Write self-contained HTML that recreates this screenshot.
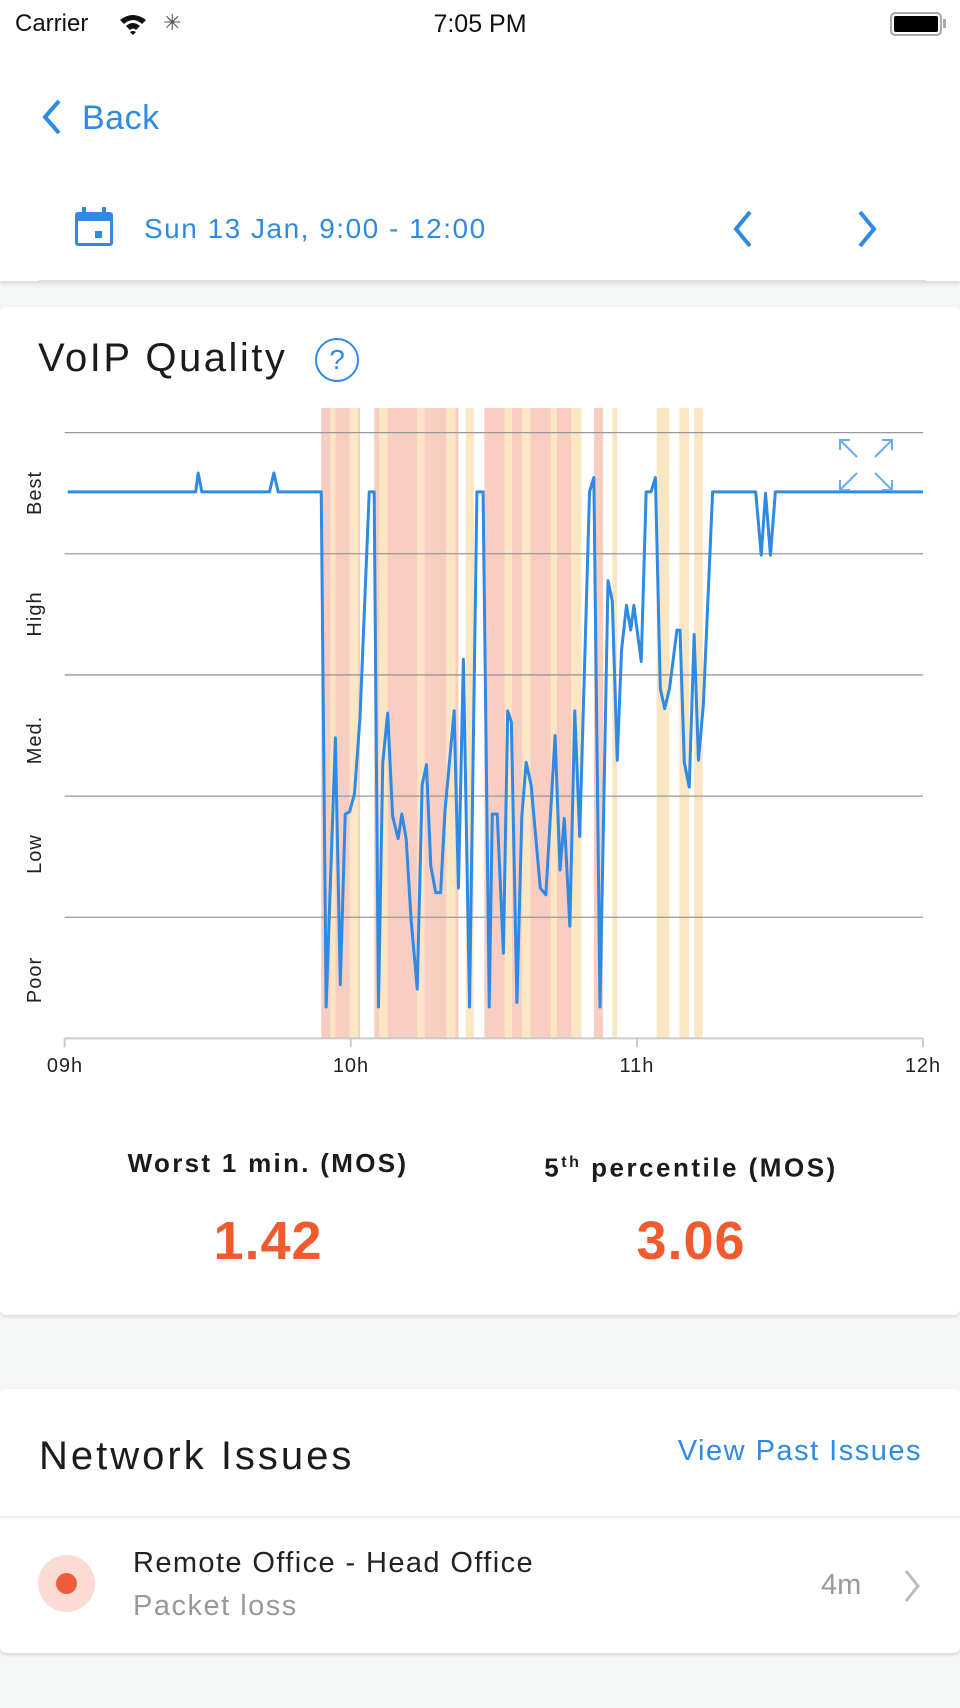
<!DOCTYPE html>
<html><head><meta charset="utf-8"><style>
*{margin:0;padding:0;box-sizing:border-box}
body{width:960px;height:1708px;background:#f5f6f6;font-family:"Liberation Sans",sans-serif;position:relative;overflow:hidden}
.a{position:absolute;white-space:nowrap}
.card{position:absolute;left:0;width:960px;background:#fff;box-shadow:0 2px 3px rgba(0,0,0,0.12)}
</style></head><body>
<div class="a" style="left:0;top:0;width:960px;height:281px;background:#fff;box-shadow:0 3px 4px rgba(0,0,0,0.1)"></div>
<div class="a" style="left:15px;top:10px;font-size:24px;line-height:28px;color:#111">Carrier</div>
<svg class="a" style="left:118px;top:12px" width="30" height="24" viewBox="0 0 30 24"><path d="M2 8 Q15 -2 28 8 L24 12 Q15 4 6 12Z M8 14 Q15 8 22 14 L18 18 Q15 15 12 18Z M15 23 L12 20 Q15 18 18 20Z" fill="#111"/></svg>
<div class="a" style="left:163px;top:10px;font-size:22px;color:#555">✳</div>
<div class="a" style="left:0;width:960px;text-align:center;top:10px;font-size:25px;line-height:28px;color:#111">7:05 PM</div>
<div class="a" style="left:890px;top:12px;width:52px;height:24px;border:2px solid #aaa;border-radius:5px;padding:2px"><div style="width:100%;height:100%;background:#000;border-radius:2px"></div></div>
<div class="a" style="left:943px;top:19px;width:3px;height:9px;background:#aaa"></div>
<svg class="a" style="left:40px;top:98px" width="24" height="38"><polyline points="19,3 5,19 19,35" fill="none" stroke="#2f8ae5" stroke-width="4"/></svg>
<div class="a" style="left:82px;top:99px;font-size:34px;line-height:38px;color:#2f8ae5;letter-spacing:0.5px">Back</div>
<svg class="a" style="left:74px;top:207px" width="40" height="40"><rect x="1" y="5" width="38" height="34" rx="3" fill="#2f8ae5"/><rect x="4" y="14" width="32" height="22" fill="#fff"/><rect x="8" y="0" width="4" height="8" fill="#2f8ae5"/><rect x="28" y="0" width="4" height="8" fill="#2f8ae5"/><rect x="21" y="24" width="7" height="7" fill="#2f8ae5"/></svg>
<div class="a" style="left:144px;top:213px;font-size:28px;line-height:32px;color:#2f8ae5;letter-spacing:1.5px">Sun 13 Jan, 9:00 - 12:00</div>
<svg class="a" style="left:728px;top:209px" width="30" height="40"><polyline points="22,3 8,20 22,37" fill="none" stroke="#2f8ae5" stroke-width="4"/></svg>
<svg class="a" style="left:852px;top:209px" width="30" height="40"><polyline points="8,3 22,20 8,37" fill="none" stroke="#2f8ae5" stroke-width="4"/></svg>
<div class="a" style="left:39px;top:280px;width:887px;height:2px;background:#ddd"></div>

<div class="card" style="top:307px;height:1008px;border-radius:6px"></div>
<div class="a" style="left:38px;top:336px;font-size:40px;line-height:44px;color:#1b1b1b;letter-spacing:2.5px">VoIP Quality</div>
<div class="a" style="left:315px;top:338px;width:44px;height:44px;border:2.5px solid #2f8ae5;border-radius:50%;color:#2f8ae5;font-size:28px;line-height:39px;text-align:center">?</div>

<svg class="a" style="left:0;top:390px" width="960" height="700" viewBox="0 0 1560 1560" preserveAspectRatio="none">
<g fill="#f8cec3">
<rect x="522" y="40" width="63" height="1405"/><rect x="608" y="40" width="137" height="1405"/><rect x="787" y="40" width="158" height="1405"/><rect x="965" y="40" width="15" height="1405"/>
</g>
<g fill="#fbe6c4">
<rect x="537" y="40" width="8" height="1405"/><rect x="568" y="40" width="14" height="1405"/><rect x="616" y="40" width="14" height="1405"/><rect x="678" y="40" width="12" height="1405"/><rect x="725" y="40" width="15" height="1405"/><rect x="757" y="40" width="13" height="1405"/><rect x="820" y="40" width="12" height="1405"/><rect x="848" y="40" width="14" height="1405"/><rect x="895" y="40" width="10" height="1405"/><rect x="928" y="40" width="17" height="1405"/><rect x="995" y="40" width="8" height="1405"/><rect x="1067" y="40" width="21" height="1405"/><rect x="1104" y="40" width="16" height="1405"/><rect x="1128" y="40" width="14" height="1405"/>
</g>
<g stroke="#999" stroke-width="1.3">
<line x1="105" x2="1500" y1="95" y2="95" vector-effect="non-scaling-stroke"/><line x1="105" x2="1500" y1="365" y2="365" vector-effect="non-scaling-stroke"/><line x1="105" x2="1500" y1="635" y2="635" vector-effect="non-scaling-stroke"/><line x1="105" x2="1500" y1="905" y2="905" vector-effect="non-scaling-stroke"/><line x1="105" x2="1500" y1="1175" y2="1175" vector-effect="non-scaling-stroke"/>
</g>
<g stroke="#ccc" stroke-width="2"><line x1="105" x2="1500" y1="1445" y2="1445" vector-effect="non-scaling-stroke"/>
<line x1="105" x2="105" y1="1445" y2="1465" vector-effect="non-scaling-stroke"/><line x1="570" x2="570" y1="1445" y2="1465" vector-effect="non-scaling-stroke"/><line x1="1035" x2="1035" y1="1445" y2="1465" vector-effect="non-scaling-stroke"/><line x1="1500" x2="1500" y1="1445" y2="1465" vector-effect="non-scaling-stroke"/></g>
<polyline fill="none" stroke="#2f8ae5" stroke-width="3" stroke-linejoin="round" vector-effect="non-scaling-stroke" points="110,227 318,227 322,185 328,227 438,227 445,185 452,227 522,227 530,1375 545,775 553,1325 561,945 568,940 576,900 585,730 600,227 608,227 615,1375 622,830 630,720 638,950 647,1000 653,945 660,1000 668,1180 678,1335 686,880 693,835 700,1060 708,1120 716,1120 723,940 738,715 745,1110 753,600 763,1375 775,227 785,227 795,1375 800,945 808,945 818,1255 825,715 831,740 840,1365 848,950 855,830 863,880 878,1110 887,1125 902,770 910,1070 917,955 926,1195 934,715 942,995 958,227 965,195 975,1375 988,425 995,470 1003,825 1010,580 1018,480 1025,535 1030,480 1042,605 1050,227 1058,227 1065,195 1073,665 1080,710 1088,665 1100,535 1105,535 1112,830 1120,885 1128,545 1135,825 1143,700 1158,227 1228,227 1237,368 1244,230 1252,368 1260,227 1500,227"/>
</svg>
<svg class="a" style="left:0;top:390px" width="960" height="720">
<g stroke="#6aaaf0" stroke-width="2" fill="none">
<path d="M840 60 L840 50 L850 50 M840 50 L857 67"/><path d="M892 60 L892 50 L882 50 M892 50 L875 67"/><path d="M840 90 L840 100 L850 100 M840 100 L857 83"/><path d="M892 90 L892 100 L882 100 M892 100 L875 83"/>
</g>
<g font-size="20" fill="#222" text-anchor="middle" font-family="Liberation Sans,sans-serif" letter-spacing="1">
<text transform="translate(41,103) rotate(-90)">Best</text>
<text transform="translate(41,224) rotate(-90)">High</text>
<text transform="translate(41,350) rotate(-90)">Med.</text>
<text transform="translate(41,464) rotate(-90)">Low</text>
<text transform="translate(41,590) rotate(-90)">Poor</text>
<text x="65" y="682">09h</text><text x="351" y="682">10h</text><text x="637" y="682">11h</text><text x="923" y="682">12h</text>
</g></svg>

<div class="a" style="left:68px;width:400px;text-align:center;top:1148px;font-size:26px;line-height:30px;font-weight:bold;color:#1b1b1b;letter-spacing:2.3px">Worst 1 min. (MOS)</div>
<div class="a" style="left:491px;width:400px;text-align:center;top:1148px;font-size:26px;line-height:30px;font-weight:bold;color:#1b1b1b;letter-spacing:2.5px">5<sup style="font-size:16px">th</sup> percentile (MOS)</div>
<div class="a" style="left:68px;width:400px;text-align:center;top:1212px;font-size:54px;line-height:58px;font-weight:bold;color:#f05a2e;letter-spacing:1px">1.42</div>
<div class="a" style="left:491px;width:400px;text-align:center;top:1212px;font-size:54px;line-height:58px;font-weight:bold;color:#f05a2e;letter-spacing:1px">3.06</div>

<div class="card" style="top:1389px;height:264px;border-radius:6px"></div>
<div class="a" style="left:39px;top:1434px;font-size:40px;line-height:44px;color:#1b1b1b;letter-spacing:3px">Network Issues</div>
<div class="a" style="right:38px;top:1435px;font-size:29px;line-height:32px;color:#2f8ae5;letter-spacing:1.5px">View Past Issues</div>
<div class="a" style="left:0;top:1516px;width:960px;height:2px;background:#eee"></div>
<div class="a" style="left:38px;top:1555px;width:57px;height:57px;border-radius:50%;background:#fbdcd4"></div>
<div class="a" style="left:56px;top:1573px;width:21px;height:21px;border-radius:50%;background:#ef5b3b"></div>
<div class="a" style="left:133px;top:1547px;font-size:29px;line-height:32px;color:#222;letter-spacing:1.4px">Remote Office - Head Office</div>
<div class="a" style="left:133px;top:1590px;font-size:29px;line-height:32px;color:#999;letter-spacing:1.5px">Packet loss</div>
<div class="a" style="left:821px;top:1569px;font-size:29px;line-height:32px;color:#999">4m</div>
<svg class="a" style="left:900px;top:1568px" width="24" height="36"><polyline points="6,3 18,18 6,33" fill="none" stroke="#bbb" stroke-width="3"/></svg>
</body></html>
